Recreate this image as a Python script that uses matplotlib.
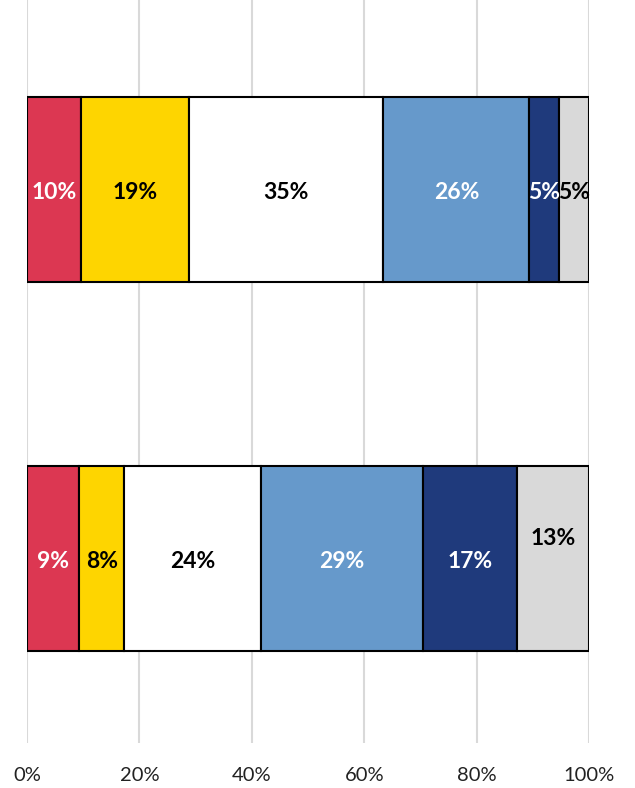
import matplotlib
matplotlib.use("Agg")
import matplotlib.pyplot as plt
from matplotlib.ticker import FuncFormatter

# Data
rows = ["Top", "Bottom"]
segments = ["S1", "S2", "S3", "S4", "S5", "S6"]
top_values = [9.6, 19.2, 34.6, 26.0, 5.3, 5.3]
bottom_values = [9.3, 8.0, 24.3, 28.9, 16.6, 12.9]
x_ticks = [0, 20, 40, 60, 80, 100]

# Styles
colors = ["#DC3752", "#FED500", "#FFFFFF", "#6699CB", "#1F3A7C", "#D9D9D9"]
label_colors = ["white", "black", "black", "white", "white", "black"]

plt.rcParams['font.family'] = ['Lato', 'DejaVu Sans']

fig = plt.figure(figsize=(6.35, 7.88), dpi=100)
ax = fig.add_axes([27/635, 1 - 743/788, (589 - 27)/635, 743/788])

ypos = {"Top": 1.0, "Bottom": 0.0}
data = {"Top": top_values, "Bottom": bottom_values}
for r in rows:
    left = 0.0
    for i, v in enumerate(data[r]):
        ax.barh(ypos[r], v, left=left, height=0.5, color=colors[i],
                edgecolor="black", linewidth=1.5, zorder=3)
        dy = -0.008
        if r == "Bottom" and i == 5:
            dy = 0.055
        ax.text(left + v / 2, ypos[r] + dy, f"{v:.0f}%", ha="center", va="center",
                color=label_colors[i], fontsize=16.5, fontweight="bold", zorder=4)
        left += v

ax.set_xlim(0, 100)
ax.set_ylim(-0.5, 1.513)
ax.set_xticks(x_ticks)
ax.xaxis.set_major_formatter(FuncFormatter(lambda x, p: f"{x:.0f}%"))
ax.tick_params(axis="x", length=0, pad=17, labelsize=14.5, labelcolor="#222222")
ax.set_yticks([])
ax.grid(axis="x", color="#D9D9D9", linewidth=1.5, zorder=0)
for s in ax.spines.values():
    s.set_visible(False)

fig.savefig("out.png", dpi=100)
